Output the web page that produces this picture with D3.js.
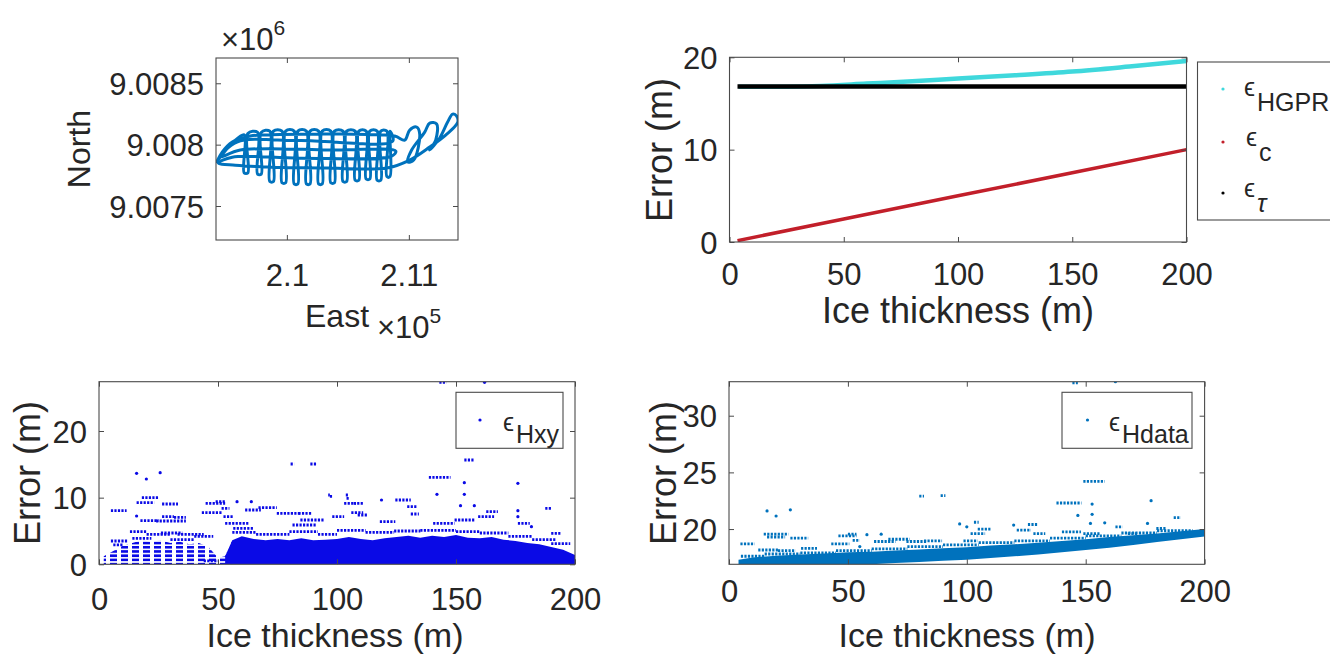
<!DOCTYPE html>
<html>
<head>
<meta charset="utf-8">
<script src="https://cdnjs.cloudflare.com/ajax/libs/d3/7.8.5/d3.min.js"></script>
<style>
body { margin: 0; background: #fff; }
text { font-family: "Liberation Sans", Arial, Helvetica, sans-serif; fill: #262626; }
.tick-label { font-size: 31px; }
.axis-label { font-size: 36px; }
.axis-label-md { font-size: 34px; }
.axis-label-sm { font-size: 32px; }
.legend-text { font-size: 25px; }
</style>
</head>
<body>
<svg id="fig" width="1330" height="661"></svg>
<script>
// ---- data ----
const thicknessTicks = [0, 50, 100, 150, 200];

// survey track (m)
const trackEast = [209421, 209470, 209552, 209700, 209945, 210435, 210884, 210966,
  211007, 211064, 211089, 211040, 210990, 211023, 211130, 211171, 211228, 211220, 211171,
  211253, 211318, 211359, 211392, 211400, 211302, 211171, 211007, 210819,
  210353, 209863, 209577, 209438, 209552, 210108, 210860, 210893,
  210353, 209618, 209454, 209591, 210108, 210868,
  210845, 210845, 210820, 210820, 210770, 210770, 210740, 210740, 210680, 210680, 210650, 210650,
  210590, 210590, 210560, 210560, 210490, 210490, 210460, 210460, 210390, 210390, 210360, 210360,
  210290, 210290, 210260, 210260, 210190, 210190, 210160, 210160, 210090, 210090, 210060, 210060,
  209990, 209990, 209960, 209960, 209890, 209890, 209860, 209860, 209790, 209790, 209760, 209760,
  209680, 209680, 209650, 209650, 209560, 209440];
const trackNorth = [9007850, 9007939, 9008021, 9008070, 9008082, 9008086, 9008070, 9008037,
  9008119, 9008143, 9008086, 9007874, 9007858, 9007956, 9008102, 9008176, 9008168, 9008037, 9007956,
  9008054, 9008184, 9008249, 9008233, 9008180, 9008078, 9007980, 9007874, 9007809,
  9007809, 9007817, 9007833, 9007850, 9007898, 9007890, 9007907, 9007947,
  9007956, 9007956, 9007898, 9008021, 9008033, 9008029,
  9008110, 9007740, 9007740, 9008110, 9008110, 9007710, 9007710, 9008110, 9008110, 9007720, 9007720, 9008110,
  9008110, 9007710, 9007710, 9008110, 9008110, 9007700, 9007700, 9008110, 9008110, 9007690, 9007690, 9008110,
  9008110, 9007680, 9007680, 9008110, 9008110, 9007680, 9007680, 9008110, 9008110, 9007680, 9007680, 9008110,
  9008110, 9007690, 9007690, 9008110, 9008110, 9007700, 9007700, 9008110, 9008100, 9007760, 9007760, 9008100,
  9008090, 9007770, 9007770, 9008080, 9008020, 9007880];
const eastTicks = [210000, 211000];
const northTicks = [9007500, 9008000, 9008500];

// modelled error terms (m)
const hgprThickness = [4, 25, 40, 60, 80, 100, 125, 150, 175, 200];
const errHGPR = [16.8, 16.82, 16.9, 17.15, 17.4, 17.7, 18.05, 18.45, 19.0, 19.6];
const cThickness = [3.5, 50, 100, 150, 200];
const errC = [0.15, 2.5, 5.0, 7.5, 10.0];
const tauThickness = [3.5, 100, 200];
const errTau = [16.85, 16.85, 16.85];
const errTicks = [0, 10, 20];

// eps_Hxy: dense core (thickness, top) and runs of points [from, to, error]
const hxyCoreThickness = [2, 6, 10, 14, 18, 22, 26, 30, 34, 38, 42, 46, 50, 53, 56, 60, 65, 70, 75, 80, 85, 90,
  95, 100, 105, 110, 115, 120, 125, 130, 135, 140, 145, 150, 155, 160, 165, 170, 175, 180, 185, 190, 195, 200];
const hxyCoreTop = [1.2, 2.0, 2.8, 3.2, 3.6, 3.4, 3.6, 3.2, 3.4, 3.0, 3.2, 2.6, 1.0, 1.2, 3.6, 4.2, 3.8, 3.6, 3.8,
  3.6, 3.9, 3.6, 3.7, 3.8, 4.1, 3.8, 3.6, 3.9, 4.1, 4.3, 4.0, 4.3, 4.1, 4.4, 4.0, 3.9, 4.1, 3.7, 3.5, 3.2, 3.0, 2.6, 2.2, 1.4];
const hxyRuns = [
  [143, 146, 27.3], [162, 162, 27.3], [15.8, 15.8, 13.65], [19.9, 19.9, 12.8], [25.7, 25.7, 13.75],
  [80.5, 82, 15.05], [88.8, 91.3, 15.05], [153.5, 157.7, 15.65], [138.6, 147.7, 13.05], [153.5, 153.5, 12.25],
  [176, 176, 12.15], [142, 142, 10.5], [153.5, 153.5, 10.5], [96.3, 97, 10.4], [97, 98, 10.2],
  [103.7, 104.6, 10.4], [104, 105, 9.9], [151.9, 151.9, 8.8], [157.7, 157.7, 8.8], [187.5, 190, 8.4],
  [5, 11.6, 8.05], [15.8, 23.2, 9.25], [18, 25, 10], [26.5, 33.2, 9.05], [15.8, 15.8, 7.25],
  [17.4, 25, 6.55], [24, 36.5, 6.5], [26.5, 31.5, 7.15], [31.5, 36.5, 7.05], [43.2, 51.5, 7.75],
  [44.8, 53, 9.15], [49, 53, 9.4], [51.5, 54.8, 8.4], [52.3, 56.4, 7.15], [58, 58, 9.4], [64, 64, 9.4],
  [61.4, 68, 8.15], [67, 74.7, 8.5], [74.7, 84.6, 7.65], [83.8, 89.6, 7.65], [53, 63, 6.15], [56.4, 64.7, 5.4],
  [84.6, 94.6, 6.65], [81.3, 91.3, 5.9], [98, 103, 7.15], [103, 108, 9.15], [107, 111, 9.15], [106, 111, 7.75],
  [108.7, 112.9, 7.4], [118.7, 118.7, 9.65], [124.5, 131, 9.65], [129.5, 133.6, 8.65], [131, 134.4, 7.55],
  [118, 124.5, 6.4], [140.4, 149.4, 6.15], [149.4, 157.7, 6.65], [159.3, 166, 7.15], [162.7, 167.6, 7.9],
  [176, 176, 8.05], [176, 176, 7.15], [190, 194.2, 4.65], [176, 181, 6.15], [181.7, 181.7, 5.65],
  [13, 20, 4.9], [20, 30, 4.5], [26, 35, 4.7], [33, 44, 4.5], [40, 48, 4.2], [5, 12, 3.5], [6, 10, 2.9],
  [14, 22, 3.9], [30, 40, 3.7], [44, 50, 0.5], [56, 66, 4.8], [66, 80, 4.5], [80, 92, 4.9], [92, 100, 4.5],
  [100, 112, 5.1], [112, 124, 4.8], [124, 135, 5.0], [135, 150, 5.1], [150, 160, 4.9], [160, 172, 4.7],
  [172, 182, 4.2], [182, 192, 3.7], [190, 198, 3.1]];

// eps_Hdata: dense band (thickness, lower, upper) and runs of points
const hdataCoreThickness = [4, 10, 20, 30, 40, 50, 60, 70, 80, 90, 100, 110, 120, 130, 140, 150, 160, 170, 180, 190, 200];
const hdataCoreLow = [16.9, 16.9, 16.9, 16.9, 16.9, 16.9, 16.9, 17.0, 17.1, 17.2, 17.3, 17.45, 17.6, 17.75,
  17.95, 18.15, 18.35, 18.6, 18.85, 19.1, 19.35];
const hdataCoreHigh = [17.3, 17.5, 17.65, 17.75, 17.85, 17.95, 18.0, 18.1, 18.2, 18.3, 18.4, 18.55, 18.65, 18.8,
  18.95, 19.1, 19.3, 19.45, 19.6, 19.8, 20.0];
const hdataRuns = [
  [144.4, 146.7, 32.9], [162.5, 162.5, 33.0], [80, 82, 22.9], [89, 91, 22.95], [149, 158, 24.2],
  [137.7, 148.2, 22.3], [177.5, 177.5, 22.5], [152.7, 152.7, 22.2], [146.7, 146.7, 21.2], [152.7, 152.7, 21.3],
  [152, 152, 20.5], [158, 158, 20.55], [187, 190, 21.0], [16, 16, 21.6], [19.8, 19.8, 21.15], [25.8, 25.8, 21.7],
  [4.8, 10.8, 18.7], [14.6, 25, 19.55], [16, 23.6, 19.3], [25.8, 33.3, 19.2], [12.3, 20.6, 18.15],
  [20.6, 28, 18.1], [30.3, 37, 18.3], [43, 50.6, 18.7], [46, 53.6, 19.4], [50, 53.6, 19.55], [52, 55, 19.0],
  [55, 55, 18.45], [58, 58, 19.5], [64, 64, 19.55], [61, 70, 18.9], [67, 76, 19.1], [74.6, 83, 18.9],
  [82, 89.6, 18.95], [97, 97, 20.45], [100, 100, 20.2], [98.6, 104.6, 18.95], [101.6, 107.7, 19.6],
  [104.6, 110, 20.0], [103, 105, 20.6], [119.7, 119.7, 20.35], [121, 127, 19.9], [125.7, 130, 20.4],
  [128, 133, 19.6], [140, 148, 19.75], [149, 156, 19.6], [162.5, 165.5, 20.2], [167.7, 172, 19.6],
  [176, 176, 20.5], [179.7, 184, 20.05],
  [5, 15, 17.6], [15, 30, 17.8], [30, 45, 17.9], [45, 60, 18.1], [60, 75, 18.25], [75, 90, 18.45],
  [90, 105, 18.6], [105, 120, 18.8], [120, 135, 18.95], [135, 150, 19.2], [150, 165, 19.4],
  [165, 180, 19.65], [180, 195, 19.85]];
const hdataTicks = [20, 25, 30];

// ---- drawing ----
const svg = d3.select('#fig');
const axisColor = '#4a4a4a';
let clipCount = 0;

const hxyColor = '#0a0ae6';
const defs = svg.append('defs');
// sparse rows of points in the shallow part of eps_Hxy
const rows = defs.append('pattern').attr('id', 'rows')
  .attr('width', 11).attr('height', 4.2).attr('patternUnits', 'userSpaceOnUse');
rows.append('rect').attr('x', 0).attr('y', 0).attr('width', 7).attr('height', 2.6).attr('fill', hxyColor);

function makePanel(box, xDomain, yDomain) {
  const x = d3.scaleLinear().domain(xDomain).range([box.x0, box.x1]);
  const y = d3.scaleLinear().domain(yDomain).range([box.y1, box.y0]);
  const id = 'clip' + (clipCount++);
  svg.append('clipPath').attr('id', id).append('rect')
    .attr('x', box.x0).attr('y', box.y0)
    .attr('width', box.x1 - box.x0).attr('height', box.y1 - box.y0);
  const plot = svg.append('g').attr('clip-path', `url(#${id})`);
  return { box, x, y, plot };
}

function drawAxes(p, xTicks, yTicks, xFmt, yFmt, xTextY) {
  const b = p.box;
  const g = svg.append('g').attr('color', axisColor);
  const none = () => '';
  const bottom = g.append('g').attr('transform', `translate(0,${b.y1})`)
    .call(d3.axisBottom(p.x).tickValues(xTicks).tickFormat(xFmt).tickSize(-5).tickSizeOuter(0));
  bottom.selectAll('text').attr('y', xTextY).attr('dy', null);
  g.append('g').attr('transform', `translate(0,${b.y0})`)
    .call(d3.axisTop(p.x).tickValues(xTicks).tickFormat(none).tickSize(-5).tickSizeOuter(0));
  const left = g.append('g').attr('transform', `translate(${b.x0},0)`)
    .call(d3.axisLeft(p.y).tickValues(yTicks).tickFormat(yFmt).tickSize(-5).tickSizeOuter(0));
  left.selectAll('text').attr('x', -12).attr('dy', '0.36em');
  g.append('g').attr('transform', `translate(${b.x1},0)`)
    .call(d3.axisRight(p.y).tickValues(yTicks).tickFormat(none).tickSize(-5).tickSizeOuter(0));
  g.selectAll('.domain').remove();
  g.selectAll('g').attr('font-size', null).attr('font-family', null);
  g.selectAll('text').attr('class', 'tick-label');
  g.append('rect')
    .attr('x', b.x0).attr('y', b.y0).attr('width', b.x1 - b.x0).attr('height', b.y1 - b.y0)
    .attr('fill', 'none').attr('stroke', axisColor).attr('stroke-width', 1.1);
}

function yLabel(text, x, y, cls) {
  svg.append('text').attr('class', cls || 'axis-label')
    .attr('transform', `translate(${x},${y}) rotate(-90)`)
    .attr('text-anchor', 'middle').text(text);
}

function xLabel(text, x, y, cls) {
  svg.append('text').attr('class', cls || 'axis-label')
    .attr('x', x).attr('y', y).attr('text-anchor', 'middle').text(text);
}

function legendEntry(markX, markY, color, textX, textY, sub, subDy, italicSub) {
  svg.append('circle').attr('cx', markX).attr('cy', markY).attr('r', 1.6).attr('fill', color);
  const t = svg.append('text').attr('class', 'legend-text').attr('x', textX).attr('y', textY);
  t.append('tspan').text('\u03F5');
  t.append('tspan').attr('dx', 2).attr('dy', subDy)
    .attr('font-style', italicSub ? 'italic' : null).text(sub);
}

function drawRuns(p, runs, color) {
  const pts = runs.filter(r => r[0] === r[1]);
  const lines = runs.filter(r => r[0] !== r[1]);
  p.plot.append('g').selectAll('line').data(lines).join('line')
    .attr('x1', r => p.x(r[0])).attr('x2', r => p.x(r[1]))
    .attr('y1', r => p.y(r[2])).attr('y2', r => p.y(r[2]))
    .attr('stroke', color).attr('stroke-width', 2.8).attr('stroke-dasharray', '2.2 1.3');
  p.plot.append('g').selectAll('circle').data(pts).join('circle')
    .attr('cx', r => p.x(r[0])).attr('cy', r => p.y(r[2])).attr('r', 1.6).attr('fill', color);
}

// --- top left: track ---
const tl = makePanel({ x0: 216, x1: 458, y0: 58, y1: 240 }, [209419, 211403], [9007223, 9008706]);
const track = d3.range(trackEast.length).map(i => [trackEast[i], trackNorth[i]]);
tl.plot.append('path').datum(track)
  .attr('d', d3.line().x(d => tl.x(d[0])).y(d => tl.y(d[1])).curve(d3.curveCatmullRom.alpha(0.5)))
  .attr('fill', 'none').attr('stroke', '#0072BD').attr('stroke-width', 3).attr('stroke-linejoin', 'round');
drawAxes(tl, eastTicks, northTicks, d => String(d / 1e5), d => String(d / 1e6), 46);
xLabel('East', 337, 327, 'axis-label-sm');
yLabel('North', 90, 149, 'axis-label-sm');
const exp6 = svg.append('text').attr('class', 'tick-label').attr('x', 221).attr('y', 50);
exp6.append('tspan').text('\u00D710');
exp6.append('tspan').attr('dy', -15).attr('font-size', 21).text('6');
const exp5 = svg.append('text').attr('class', 'tick-label').attr('x', 377).attr('y', 338);
exp5.append('tspan').text('\u00D710');
exp5.append('tspan').attr('dy', -15).attr('font-size', 21).text('5');

// --- top right: modelled errors ---
const tr = makePanel({ x0: 729.5, x1: 1186.5, y0: 57.3, y1: 242 }, [0, 200], [0, 20]);
const lineOf = p => d3.line().x(d => p.x(d[0])).y(d => p.y(d[1]));
tr.plot.append('path').datum(hgprThickness.map((t, i) => [t, errHGPR[i]]))
  .attr('d', lineOf(tr).curve(d3.curveMonotoneX)).attr('fill', 'none')
  .attr('stroke', '#3fd8dc').attr('stroke-width', 4.5);
tr.plot.append('path').datum(cThickness.map((t, i) => [t, errC[i]]))
  .attr('d', lineOf(tr)).attr('fill', 'none').attr('stroke', '#c21f2a').attr('stroke-width', 3.5);
tr.plot.append('path').datum(tauThickness.map((t, i) => [t, errTau[i]]))
  .attr('d', lineOf(tr)).attr('fill', 'none').attr('stroke', '#000').attr('stroke-width', 4.5);
drawAxes(tr, thicknessTicks, errTicks, d3.format('d'), d3.format('d'), 43);
xLabel('Ice thickness (m)', 958, 323);
yLabel('Error (m)', 672, 150);
svg.append('rect').attr('x', 1197.5).attr('y', 62).attr('width', 150).attr('height', 158)
  .attr('fill', '#fff').attr('stroke', axisColor).attr('stroke-width', 1.1);
legendEntry(1223, 89, '#3fd8dc', 1244, 96, 'HGPR', 15, false);
legendEntry(1223, 142, '#c21f2a', 1246, 146, 'c', 15, false);
legendEntry(1223, 193, '#000', 1244, 197, '\u03C4', 15, true);

// --- bottom left: eps_Hxy ---
const bl = makePanel({ x0: 99, x1: 575, y0: 381.7, y1: 564.3 }, [0, 200], [0, 27.4]);
const hxyCore = hxyCoreThickness.map((t, i) => [t, hxyCoreTop[i]]);
const hxyArea = d3.area().x(d => bl.x(d[0])).y0(bl.y(0)).y1(d => bl.y(d[1]));
bl.plot.append('path').datum(hxyCore.filter(d => d[0] <= 56))
  .attr('d', hxyArea).attr('fill', 'url(#rows)');
bl.plot.append('path').datum(hxyCore.filter(d => d[0] >= 53))
  .attr('d', hxyArea).attr('fill', hxyColor);
drawRuns(bl, hxyRuns, hxyColor);
drawAxes(bl, thicknessTicks, errTicks, d3.format('d'), d3.format('d'), 46);
xLabel('Ice thickness (m)', 335, 647, 'axis-label-md');
yLabel('Error (m)', 40, 473);
svg.append('rect').attr('x', 456).attr('y', 392.3).attr('width', 107).attr('height', 56)
  .attr('fill', '#fff').attr('stroke', axisColor).attr('stroke-width', 1.1);
legendEntry(480, 420, hxyColor, 503, 431, 'Hxy', 12, false);

// --- bottom right: eps_Hdata ---
const br = makePanel({ x0: 729, x1: 1204.6, y0: 381.7, y1: 564.3 }, [0, 200], [16.89, 33.0]);
br.plot.append('path').datum(hdataCoreThickness.map((t, i) => [t, hdataCoreLow[i], hdataCoreHigh[i]]))
  .attr('d', d3.area().x(d => br.x(d[0])).y0(d => br.y(d[1])).y1(d => br.y(d[2])))
  .attr('fill', '#0072BD');
drawRuns(br, hdataRuns, '#0072BD');
drawAxes(br, thicknessTicks, hdataTicks, d3.format('d'), d3.format('d'), 38);
xLabel('Ice thickness (m)', 967, 647, 'axis-label-md');
yLabel('Error (m)', 676, 473);
svg.append('rect').attr('x', 1062).attr('y', 392.3).attr('width', 130).attr('height', 56)
  .attr('fill', '#fff').attr('stroke', axisColor).attr('stroke-width', 1.1);
legendEntry(1087.5, 420, '#0072BD', 1109, 431, 'Hdata', 12, false);
</script>
</body>
</html>
